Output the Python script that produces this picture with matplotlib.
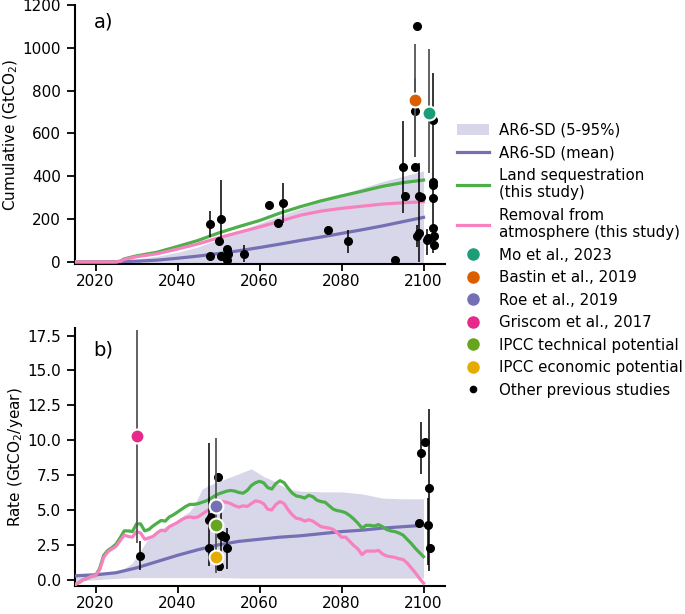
import matplotlib
matplotlib.use("Agg")
import matplotlib.pyplot as plt
import numpy as np
from matplotlib.patches import Patch
from matplotlib.lines import Line2D

# ---- colours
C_BAND = "#7570b3"
C_MEAN = "#7570b3"
C_LAND = "#4daf4a"
C_REM = "#f781bf"
C_MO = "#1b9e77"
C_BASTIN = "#d95f02"
C_ROE = "#7570b3"
C_GRISCOM = "#e7298a"
C_TECH = "#66a61e"
C_ECON = "#e6ab02"

# ---- panel a: cumulative (GtCO2)
cum_years = [2015, 2020, 2025, 2026, 2027, 2030, 2035, 2040, 2045, 2050, 2055,
             2060, 2065, 2070, 2075, 2080, 2085, 2090, 2095, 2100]
land_cum = [0, 0, 0, 3, 14, 28, 45, 72, 100, 135, 165, 193, 228, 258, 285, 308,
            330, 353, 370, 382]
removal_cum = [0, 0, 0, 3, 12, 24, 38, 60, 84, 112, 138, 163, 190, 218, 237, 250,
               260, 270, 276, 281]
mean_cum = [0, 0, 1, 1, 2, 3, 8, 17, 27, 39, 52, 67, 83, 100, 116, 133, 150, 168,
            188, 208]
band_cum_lo = [-5, -5, -5, -5, -5, -5, -4, -4, -4, -4, -4, -4, -4, -4, -4, -4, -4,
               -4, -4, -4]
band_cum_hi = [0, 1, 3, 5, 7, 14, 26, 45, 70, 105, 142, 180, 215, 250, 282, 313,
               345, 375, 400, 425]

# other studies, cumulative: year, value, bar low, bar high (nan = no bar)
oth_a_x = [2047.9, 2047.9, 2050.7, 2050.0, 2050.7, 2052.0, 2052.2, 2052.1, 2056.3,
           2062.3, 2064.4, 2065.8, 2076.6, 2081.5, 2093.1, 2094.9, 2095.5, 2098.4,
           2098.0, 2098.0, 2099.0, 2099.4, 2098.5, 2099.0, 2100.8, 2101.1, 2102.4,
           2102.4, 2102.3, 2102.3, 2102.4, 2102.5, 2102.6]
oth_a_y = [177, 27, 198, 97, 27, 58, 39, 8, 39, 264, 183, 277, 148, 97, 8, 445, 308,
           1102, 703, 445, 308, 305, 120, 137, 102, 112, 661, 375, 360, 300, 156,
           120, 81]
oth_a_lo = [117, np.nan, 78, np.nan, np.nan, np.nan, np.nan, np.nan, 0, np.nan,
            np.nan, 180, np.nan, 42, np.nan, 227, np.nan, np.nan, 492, np.nan, 0,
            np.nan, 70, np.nan, 31, np.nan, 490, 40, np.nan, np.nan, np.nan,
            np.nan, np.nan]
oth_a_hi = [239, np.nan, 383, np.nan, np.nan, np.nan, np.nan, np.nan, 78, np.nan,
            np.nan, 370, np.nan, 148, np.nan, 656, np.nan, np.nan, 860, np.nan,
            462, np.nan, 172, np.nan, 153, np.nan, 883, 492, np.nan, np.nan,
            np.nan, np.nan, np.nan]

mo_a = (2101.4, 696, 414, 992)
bastin_a = (2098.0, 758, 492, 1016)

# ---- panel b: rate (GtCO2/year)
rate_years = list(range(2015, 2101))
land_rate = [-0.35, -0.2, 0.0, 0.1, 0.25, 0.3, 0.8, 1.75, 2.1, 2.3, 2.55, 3.0, 3.5,
             3.5, 3.45, 4.0, 4.0, 3.5, 3.6, 3.85, 4.05, 4.25, 4.2, 4.5, 4.65, 4.85,
             5.05, 5.25, 5.4, 5.4, 5.45, 5.55, 5.65, 5.8, 6.0, 6.15, 6.25, 6.35,
             6.4, 6.35, 6.25, 6.2, 6.4, 6.75, 6.95, 7.05, 6.95, 6.6, 6.5, 6.9, 7.1,
             6.95, 6.55, 6.2, 6.0, 5.95, 5.85, 6.05, 5.95, 5.7, 5.6, 5.55, 5.3,
             5.05, 4.95, 4.9, 4.8, 4.6, 4.35, 4.05, 3.7, 3.9, 3.9, 3.85, 3.95, 3.8,
             3.6, 3.5, 3.45, 3.35, 3.2, 2.9, 2.6, 2.25, 1.95, 1.65]
removal_rate = [-0.35, -0.2, 0.0, 0.1, 0.25, 0.3, 0.7, 1.6, 2.0, 2.2, 2.4, 2.8, 3.2,
                3.1, 3.05, 3.45, 3.35, 2.9, 3.0, 3.1, 3.35, 3.55, 3.5, 3.8, 3.95,
                4.1, 4.3, 4.45, 4.5, 4.45, 4.5, 4.7, 4.9, 5.1, 5.35, 5.55, 5.6,
                5.55, 5.45, 5.3, 5.2, 5.3, 5.25, 5.45, 5.65, 5.6, 5.45, 5.05, 5.0,
                5.4, 5.6, 5.45, 5.0, 4.65, 4.4, 4.35, 4.2, 4.3, 4.2, 4.0, 3.8, 3.75,
                3.7, 3.6, 3.35, 3.05, 3.05, 2.75, 2.45, 2.2, 1.8, 2.05, 2.05, 2.05,
                2.1, 1.85, 1.7, 1.65, 1.6, 1.5, 1.45, 1.2, 0.85, 0.5, 0.1, -0.25]
mean_years = [2015, 2020, 2025, 2030, 2035, 2040, 2045, 2050, 2055, 2060, 2065,
              2070, 2075, 2080, 2085, 2090, 2095, 2100]
mean_rate = [0.28, 0.35, 0.5, 0.85, 1.3, 1.75, 2.15, 2.5, 2.75, 2.9, 3.05, 3.15,
             3.3, 3.45, 3.55, 3.7, 3.8, 3.9]
band_years = [2015, 2020, 2025, 2027, 2029, 2031, 2033, 2035, 2039, 2043, 2044,
              2045, 2046, 2048, 2051, 2055, 2058, 2061, 2063, 2065, 2067, 2070,
              2075, 2080, 2085, 2090, 2095, 2100]
band_rate_hi = [0.45, 0.5, 0.6, 0.8, 1.2, 2.1, 3.0, 3.5, 4.1, 4.9, 5.3, 5.9, 6.5,
                6.8, 7.15, 7.6, 7.95, 7.4, 7.15, 6.8, 6.5, 6.35, 6.3, 6.3, 6.15,
                5.85, 5.8, 5.8]
band_rate_lo = [-0.1, 0.0, 0.1, 0.12, 0.15, 0.15, 0.15, 0.15, 0.15, 0.15, 0.15,
                0.15, 0.15, 0.15, 0.15, 0.12, 0.12, 0.12, 0.12, 0.12, 0.12, 0.12,
                0.12, 0.12, 0.12, 0.12, 0.12, 0.12]

oth_b_x = [2030.8, 2047.8, 2048.2, 2047.8, 2049.9, 2050.6, 2051.2, 2051.7, 2052.1,
           2050.2, 2099.3, 2100.4, 2101.4, 2098.8, 2101.0, 2101.6]
oth_b_y = [1.72, 4.3, 4.53, 2.27, 7.35, 3.2, 3.15, 3.05, 2.3, 1.0, 9.07, 9.9, 6.6,
           4.1, 3.95, 2.3]
oth_b_lo = [0.7, 0.95, np.nan, np.nan, np.nan, 0.6, np.nan, np.nan, 0.76, np.nan,
            7.6, np.nan, 0.6, np.nan, 1.07, np.nan]
oth_b_hi = [2.75, 9.8, np.nan, np.nan, np.nan, 5.5, np.nan, np.nan, 3.7, np.nan,
            11.3, np.nan, 12.2, np.nan, 5.85, np.nan]

griscom_b = (2030.0, 10.3, 2.6, 17.9)
roe_b = (2049.4, 5.3, 0.48, 10.15)
tech_b = (2049.4, 3.9)
econ_b = (2049.4, 1.6)

plt.rcParams["font.family"] = "DejaVu Sans"
plt.rcParams["font.size"] = 11

fig = plt.figure(figsize=(6.85, 6.14), dpi=100)
ax1 = fig.add_axes([0.1095, 0.570, 0.5405, 0.422])
ax2 = fig.add_axes([0.1095, 0.0456, 0.5405, 0.4204])


def draw_others(ax, xs, ys, los, his):
    xs, ys, los, his = map(np.asarray, (xs, ys, los, his))
    m = ~np.isnan(los)
    ax.vlines(xs[m], los[m], his[m], color="k", lw=1.1, zorder=4)
    ax.plot(xs, ys, "o", color="k", ms=5.5, zorder=5, ls="none")


def big_point(ax, x, y, color, lo=None, hi=None):
    if lo is not None:
        ax.vlines([x], [lo], [hi], color="#555555", lw=1.3, zorder=6)
    ax.plot([x], [y], "o", color=color, ms=10, mec="white", mew=1.5, zorder=7)


# panel a
ax1.fill_between(cum_years, band_cum_lo, band_cum_hi, color=C_BAND, alpha=0.28,
                 lw=0, zorder=1)
ax1.plot(cum_years, mean_cum, color=C_MEAN, lw=2.3, zorder=3)
ax1.plot(cum_years, land_cum, color=C_LAND, lw=2.3, zorder=3)
ax1.plot(cum_years, removal_cum, color=C_REM, lw=2.3, zorder=3)
draw_others(ax1, oth_a_x, oth_a_y, oth_a_lo, oth_a_hi)
big_point(ax1, bastin_a[0], bastin_a[1], C_BASTIN, bastin_a[2], bastin_a[3])
big_point(ax1, mo_a[0], mo_a[1], C_MO, mo_a[2], mo_a[3])
ax1.set_ylim(-10, 1200)
ax1.set_yticks(range(0, 1201, 200))
ax1.set_ylabel("Cumulative (GtCO$_2$)", labelpad=2)
ax1.text(0.05, 0.935, "a)", transform=ax1.transAxes, fontsize=14, va="center")

# panel b
ax2.fill_between(band_years, band_rate_lo, band_rate_hi, color=C_BAND, alpha=0.28,
                 lw=0, zorder=1)
ax2.plot(mean_years, mean_rate, color=C_MEAN, lw=2.3, zorder=3)
ax2.plot(rate_years, land_rate, color=C_LAND, lw=2.3, zorder=3)
ax2.plot(rate_years, removal_rate, color=C_REM, lw=2.3, zorder=3)
draw_others(ax2, oth_b_x, oth_b_y, oth_b_lo, oth_b_hi)
big_point(ax2, griscom_b[0], griscom_b[1], C_GRISCOM, griscom_b[2], griscom_b[3])
big_point(ax2, roe_b[0], roe_b[1], C_ROE, roe_b[2], roe_b[3])
big_point(ax2, tech_b[0], tech_b[1], C_TECH)
big_point(ax2, econ_b[0], econ_b[1], C_ECON)
ax2.set_ylim(-0.45, 18.05)
ax2.set_yticks(np.arange(0, 17.6, 2.5))
ax2.set_ylabel("Rate (GtCO$_2$/year)", labelpad=2)
ax2.text(0.05, 0.915, "b)", transform=ax2.transAxes, fontsize=14, va="center")

for ax in (ax1, ax2):
    ax.set_xlim(2015, 2105.3)
    ax.set_xticks(range(2020, 2101, 20))
    ax.spines["top"].set_visible(False)
    ax.spines["right"].set_visible(False)
    ax.spines["left"].set_linewidth(1.5)
    ax.spines["bottom"].set_linewidth(1.5)
    ax.tick_params(axis="y", width=1.3, length=6, pad=4)
    ax.tick_params(axis="x", width=1.3, length=5, pad=2.5)

handles = [
    Patch(facecolor=C_BAND, alpha=0.28, lw=0),
    Line2D([], [], color=C_MEAN, lw=2.3),
    Line2D([], [], color=C_LAND, lw=2.3),
    Line2D([], [], color=C_REM, lw=2.3),
    Line2D([], [], marker="o", ls="none", color=C_MO, ms=8),
    Line2D([], [], marker="o", ls="none", color=C_BASTIN, ms=8),
    Line2D([], [], marker="o", ls="none", color=C_ROE, ms=8),
    Line2D([], [], marker="o", ls="none", color=C_GRISCOM, ms=8),
    Line2D([], [], marker="o", ls="none", color=C_TECH, ms=8),
    Line2D([], [], marker="o", ls="none", color=C_ECON, ms=8),
    Line2D([], [], marker="o", ls="none", color="k", ms=4.5),
]
labels = ["AR6-SD (5-95%)", "AR6-SD (mean)", "Land sequestration\n(this study)",
          "Removal from\natmosphere (this study)", "Mo et al., 2023",
          "Bastin et al., 2019", "Roe et al., 2019", "Griscom et al., 2017",
          "IPCC technical potential", "IPCC economic potential",
          "Other previous studies"]
fig.legend(handles, labels, loc="upper left", bbox_to_anchor=(0.667, 0.80),
           frameon=False, fontsize=10.8, handlelength=2.15, handletextpad=0.65,
           borderpad=0, borderaxespad=0, labelspacing=0.5)

fig.savefig("out.png", dpi=100)
